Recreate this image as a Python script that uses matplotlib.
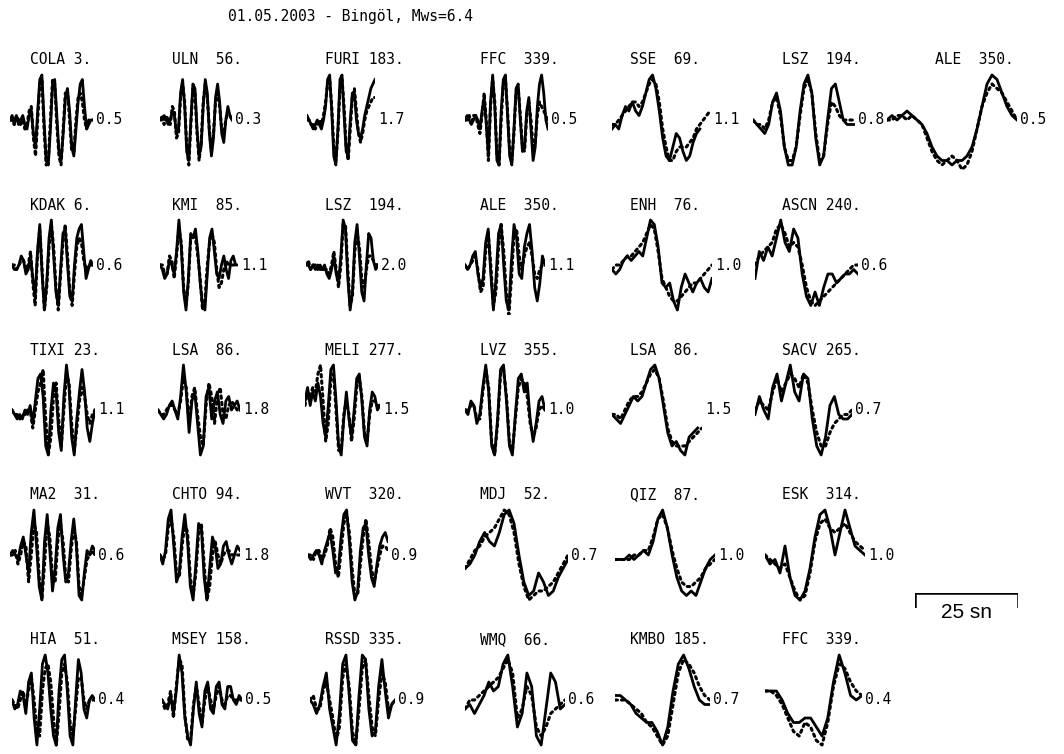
import matplotlib
matplotlib.use("Agg")
import matplotlib.pyplot as plt

W, H = 1064, 754
TITLE = "01.05.2003 - Bingöl, Mws=6.4"

# ---------------- data ----------------
stations = [
    ["COLA 3.", "ULN  56.", "FURI 183.", "FFC  339.", "SSE  69.", "LSZ  194.", "ALE  350."],
    ["KDAK 6.", "KMI  85.", "LSZ  194.", "ALE  350.", "ENH  76.", "ASCN 240."],
    ["TIXI 23.", "LSA  86.", "MELI 277.", "LVZ  355.", "LSA  86.", "SACV 265."],
    ["MA2  31.", "CHTO 94.", "WVT  320.", "MDJ  52.", "QIZ  87.", "ESK  314."],
    ["HIA  51.", "MSEY 158.", "RSSD 335.", "WMQ  66.", "KMBO 185.", "FFC  339."],
]
amps = [
    ["0.5", "0.3", "1.7", "0.5", "1.1", "0.8", "0.5"],
    ["0.6", "1.1", "2.0", "1.1", "1.0", "0.6"],
    ["1.1", "1.8", "1.5", "1.0", "1.5", "0.7"],
    ["0.6", "1.8", "0.9", "0.7", "1.0", "1.0"],
    ["0.4", "0.5", "0.9", "0.6", "0.7", "0.4"],
]

# observed (solid) and synthetic (dotted) traces, in tenths of normalised amplitude
cola_obs = [0,1,-1,1,-1,0,1,-1,-2,1,2,-3,-6,2,9,10,0,-9,-10,-2,8,9,1,-7,-9,-3,5,7,2,-6,-8,-2,4,8,9,3,-2,-1,0,0]
cola_syn = [0,0,-1,1,0,-1,0,-2,-1,2,3,-4,-8,0,8,9,-2,-10,-9,0,9,8,-1,-8,-10,-2,6,6,0,-7,-7,0,5,6,4,0,-2,0,0,0]
uln_obs = [0,0,1,0,-1,0,2,1,-3,-2,6,9,3,-7,-9,0,8,7,-2,-8,-6,3,9,6,-3,-8,-4,5,8,4,-3,-5,0,3,1,0]
uln_syn = [0,1,-1,1,0,-1,3,2,-4,-3,5,8,4,-6,-10,-1,7,6,-3,-9,-5,4,8,5,-2,-7,-3,4,6,3,-2,-3,0,2,1,0]
furi_obs = [1,0,-1,-2,-1,0,-1,-2,0,3,9,10,2,-8,-10,-2,9,10,1,-7,-8,0,6,6,0,-3,-4,-2,1,3,5,7,8,9]
furi_syn = [0,0,-1,-1,-2,-1,0,-1,1,4,8,9,3,-6,-9,-3,7,9,3,-6,-9,-2,5,7,2,-3,-5,-3,0,2,3,4,5,5]
ffc_p_obs = [0,1,0,-1,0,1,0,-2,2,5,-1,-8,4,10,3,-9,-10,2,9,10,1,-8,-10,-2,7,8,0,-7,-6,2,5,-2,-9,-6,3,8,10,6,0,-2]
ffc_p_syn = [0,0,1,-1,1,1,-1,-3,1,6,0,-9,3,9,4,-8,-10,0,8,9,2,-7,-9,-3,6,7,1,-6,-7,1,4,0,-6,-5,1,4,3,2,1,0]
sse_obs = [-2,-1,-2,1,3,2,4,2,1,3,6,9,10,7,2,-4,-8,-9,-6,-3,-4,-7,-9,-8,-5,-3,-2]
sse_syn = [-1,-1,0,1,2,3,4,4,3,4,6,8,9,8,4,-2,-6,-9,-9,-7,-6,-6,-6,-5,-4,-2,-1,0,1,2]
lsz_sh_obs = [0,-1,-2,-3,-1,4,6,2,-6,-10,-10,-6,2,8,10,6,-4,-10,-8,0,7,8,4,0,-1,-1,-1]
lsz_sh_syn = [0,-1,-1,-2,0,4,5,1,-6,-9,-9,-6,1,7,9,6,-3,-9,-8,-1,4,3,1,0,0,0,0]
ale_sh_obs = [0,1,0,1,2,1,0,-1,-3,-6,-8,-9,-9,-10,-9,-9,-8,-6,-2,3,8,10,9,6,3,1,0]
ale_sh_syn = [0,0,1,1,0,1,0,-1,-4,-7,-9,-10,-9,-8,-9,-11,-10,-7,-2,3,6,8,7,6,4,2,0]

kdak_obs = [0,-1,-1,0,2,1,-2,-1,2,-3,-7,3,9,-2,-10,-4,6,10,2,-6,-9,-1,7,8,0,-7,-8,0,6,8,9,3,-3,-1,1,0]
kdak_syn = [0,0,-1,0,1,1,-1,0,3,-4,-9,2,8,-1,-10,-5,4,9,4,-5,-10,-2,5,9,2,-6,-9,-2,4,6,5,1,-1,0,0,0]
kmi_obs = [0,-1,-3,-2,1,0,-2,3,10,4,-6,-10,-3,7,6,8,3,-4,-9,-10,-2,6,8,3,-2,-3,0,2,-1,-3,1,2,0,0]
kmi_syn = [0,0,-2,-2,2,1,-3,2,8,5,-5,-9,-4,6,7,6,2,-3,-10,-8,0,5,7,5,-1,-5,-4,-1,1,0,0,0,0,0]
lsz_p_obs = [0,0,-1,0,-1,0,-1,-1,0,-2,-3,-1,2,-2,-4,2,10,8,-3,-10,-6,5,9,2,-6,-8,0,7,6,1,-1,0]
lsz_p_syn = [0,1,-1,0,0,-1,0,-1,-1,-1,-2,0,3,-1,-5,0,9,9,-1,-9,-7,3,7,4,-3,-5,-1,2,2,1,0,0]
ale_p_obs = [0,-1,0,2,3,-2,-5,-3,5,8,-2,-10,-3,7,9,0,-8,-10,1,9,6,-2,-3,4,7,9,3,-5,-8,-4,2,0]
ale_p_syn = [0,-1,0,1,2,-1,-6,-5,3,7,0,-9,-6,4,9,3,-6,-11,-3,7,8,2,-1,2,4,5,2,-2,-3,-1,0,0]
enh_obs = [-1,-2,-1,1,2,1,2,3,2,6,10,9,4,-4,-5,-4,-8,-10,-5,-2,-4,-6,-4,-3,-5,-6,-3]
enh_syn = [-1,0,0,1,2,2,3,4,5,7,9,8,3,-3,-5,-7,-8,-8,-7,-6,-5,-4,-4,-3,-2,-1,0]
ascn_obs = [-3,3,1,4,2,6,10,5,3,8,6,-2,-7,-9,-6,-9,-5,-2,-2,-4,-3,-2,-2,-1,-2]
ascn_syn = [0,2,3,4,5,8,9,7,4,5,4,0,-5,-8,-9,-8,-7,-6,-5,-4,-3,-2,-1,0,0]

tixi_obs = [0,-1,-2,-1,-2,0,-1,1,-3,2,7,8,3,-8,-10,0,6,4,-5,-9,3,10,5,-6,-10,-2,4,9,4,-4,-7,-3,0]
tixi_syn = [0,-1,-1,-2,-1,-1,0,0,-4,0,4,6,9,-2,-10,-6,3,6,-2,-8,0,8,6,-3,-9,-4,2,5,3,-1,-3,-1,0]
lsa_p_obs = [0,-1,-2,-1,1,2,0,-2,3,10,4,-5,2,4,-3,-10,-8,3,5,-2,2,4,-1,-3,2,3,0,1,2,0]
lsa_p_syn = [0,-1,-1,0,1,1,0,-1,2,7,5,-3,3,5,-1,-6,-8,1,6,3,-3,3,5,-1,-2,1,2,1,0,0]
meli_obs = [2,5,1,4,2,6,3,-3,-6,1,9,10,2,-8,-10,-2,4,-2,-6,0,7,8,2,-6,-8,0,4,3,0,1]
meli_syn = [1,4,3,5,4,8,10,2,-7,-3,7,8,0,-9,-9,-1,2,-1,-7,-2,5,7,3,-5,-7,-1,2,2,1,1]
lvz_obs = [0,-1,2,1,-3,-1,5,10,4,-8,-10,-2,9,10,2,-8,-10,-1,7,8,4,6,-2,-7,-3,2,3,0]
lvz_syn = [0,0,1,1,-2,-2,4,9,5,-7,-10,-3,8,9,3,-7,-9,-2,5,7,6,3,-3,-6,-4,0,1,0]
lsa_sh_obs = [-1,-2,-3,-1,1,3,2,3,6,9,10,7,1,-5,-8,-7,-9,-10,-6,-5,-4]
lsa_sh_syn = [-1,-1,-2,0,2,3,3,4,6,8,9,7,2,-4,-7,-8,-8,-8,-7,-6,-5,-4]
sacv_obs = [-1,3,0,-2,5,8,2,6,10,4,2,8,7,-2,-8,-10,-6,1,3,-1,-2,-2,-1]
sacv_syn = [0,2,1,0,4,7,4,6,8,7,5,8,6,0,-5,-8,-8,-5,-3,-2,-1,-1,0]

ma2_obs = [0,1,0,-1,2,4,0,-4,5,10,2,-7,-10,3,9,1,-8,-3,6,9,0,-6,-4,3,8,2,-9,-10,-4,1,0,2,1]
ma2_syn = [0,0,1,-2,0,3,2,-6,0,7,5,-5,-10,-2,7,4,-5,-6,3,7,3,-5,-6,1,6,3,-7,-9,-5,-1,0,1,0]
chto_obs = [0,-2,1,8,10,2,-6,-4,4,9,3,-7,-10,-2,7,6,-5,-10,-3,4,2,-3,-2,2,3,0,-2,0,2,1]
chto_syn = [0,-1,0,6,8,4,-4,-5,2,7,5,-5,-9,-4,5,7,-2,-10,-7,0,3,0,-2,0,1,1,0,0,0,0]
wvt_obs = [0,-1,0,1,0,-2,1,3,5,1,-4,-3,4,9,10,3,-6,-10,-8,1,6,7,0,-5,-7,-2,2,4,5,3]
wvt_syn = [0,0,-1,1,1,-1,0,2,6,4,-2,-5,1,7,9,5,-3,-9,-9,-2,4,8,3,-3,-6,-3,0,2,2,1]
mdj_obs = [-3,-2,0,3,5,3,2,5,9,10,7,0,-6,-9,-8,-4,-6,-9,-8,-5,-3,-1]
mdj_syn = [-3,-1,1,2,4,5,6,8,10,9,5,-2,-7,-10,-9,-8,-8,-7,-6,-4,-2,0]
qiz_obs = [-1,-1,-1,0,-1,0,1,0,3,8,10,6,0,-5,-8,-9,-8,-9,-6,-3,-1,0]
qiz_syn = [-1,-1,-1,-1,0,0,1,1,4,8,9,6,1,-3,-6,-7,-7,-6,-5,-3,-2,-1]
esk_obs = [0,-2,-1,-4,2,-5,-9,-10,-8,-3,4,9,10,6,0,5,10,6,2,1,0]
esk_syn = [0,-1,-2,-3,-2,-5,-8,-10,-9,-4,3,7,8,6,5,6,7,5,3,2,1]

hia_obs = [0,-2,-1,2,1,-3,4,6,-4,-10,-2,8,10,6,-2,-8,-10,2,9,10,2,-8,-10,0,9,6,-2,-4,0,1,0]
hia_syn = [0,-1,-2,0,2,-1,2,5,0,-7,-8,2,7,8,4,-4,-10,-3,6,8,4,-5,-8,-2,5,5,0,-2,0,0,0]
msey_obs = [0,-1,-2,1,-3,2,10,6,-4,-8,-10,-2,4,-3,-6,2,4,-2,-3,3,4,-1,-2,3,3,0,-1,1,0]
msey_syn = [0,-2,-1,2,-4,3,9,8,-3,-9,-9,-1,3,-1,-5,0,3,0,-2,1,3,0,-1,1,1,0,0,0,0]
rssd_obs = [0,-1,-3,-1,3,6,-2,-6,-10,-3,8,10,1,-9,-10,1,10,9,-2,-8,-7,3,9,2,-4,-1,0]
rssd_syn = [0,1,-2,-2,2,4,0,-4,-9,-6,5,8,3,-7,-10,-2,7,9,1,-6,-8,0,6,4,-2,-1,0]
wmq_obs = [-2,-1,-3,-1,1,4,2,3,8,10,3,-6,-3,6,3,-8,-10,-2,6,4,-2,-1]
wmq_syn = [-2,0,0,1,2,3,4,5,7,9,6,-4,-2,3,1,-6,-8,-6,-3,-2,-1,0]
kmbo_obs = [1,1,0,-1,-3,-4,-5,-5,-7,-10,-6,2,8,10,7,3,0,-1,-1]
kmbo_syn = [0,0,0,-1,-2,-3,-5,-6,-8,-10,-8,-1,6,9,8,6,3,1,0]
ffc_sh_obs = [2,2,2,0,-3,-5,-5,-4,-4,-6,-8,-4,4,10,6,1,0,1]
ffc_sh_syn = [2,2,1,-1,-4,-7,-8,-5,-6,-9,-10,-5,3,8,7,4,2,1]

observed = [
    [cola_obs, uln_obs, furi_obs, ffc_p_obs, sse_obs, lsz_sh_obs, ale_sh_obs],
    [kdak_obs, kmi_obs, lsz_p_obs, ale_p_obs, enh_obs, ascn_obs],
    [tixi_obs, lsa_p_obs, meli_obs, lvz_obs, lsa_sh_obs, sacv_obs],
    [ma2_obs, chto_obs, wvt_obs, mdj_obs, qiz_obs, esk_obs],
    [hia_obs, msey_obs, rssd_obs, wmq_obs, kmbo_obs, ffc_sh_obs],
]
synthetic = [
    [cola_syn, uln_syn, furi_syn, ffc_p_syn, sse_syn, lsz_sh_syn, ale_sh_syn],
    [kdak_syn, kmi_syn, lsz_p_syn, ale_p_syn, enh_syn, ascn_syn],
    [tixi_syn, lsa_p_syn, meli_syn, lvz_syn, lsa_sh_syn, sacv_syn],
    [ma2_syn, chto_syn, wvt_syn, mdj_syn, qiz_syn, esk_syn],
    [hia_syn, msey_syn, rssd_syn, wmq_syn, kmbo_syn, ffc_sh_syn],
]
scale_seconds = 25
scale_label = "25 sn"

# ---------------- layout (pixels) ----------------
label_x = [30, 172, 325, 480, 630, 782, 935]
row_center = [120, 265, 410, 555, 700]
label_dy = 60
half_h = 45
wave_x0 = [
    [10, 160, 307, 465, 612, 753, 887],
    [12, 160, 306, 465, 612, 755],
    [12, 158, 305, 465, 612, 755],
    [10, 160, 308, 465, 615, 765],
    [12, 162, 310, 465, 615, 765],
]
wave_x1 = [
    [93, 232, 375, 548, 710, 855, 1017],
    [93, 238, 378, 545, 712, 858],
    [95, 240, 380, 545, 702, 852],
    [95, 240, 388, 568, 715, 865],
    [95, 242, 395, 565, 710, 862],
]
amp_gap = 3
bar_x0, bar_y, bar_tick = 915, 593, 15
px_per_sec = 103 / 25

MONO = "DejaVu Sans Mono"
FS = 10.5

fig = plt.figure(figsize=(W / 100, H / 100), dpi=100)
fig.patch.set_facecolor("white")


def fx(x):
    return x / W


def fy(y):
    return 1 - y / H


fig.text(fx(228), fy(16), TITLE, family=MONO, fontsize=FS, ha="left", va="center")

for r, row in enumerate(stations):
    yc = row_center[r]
    for c, name in enumerate(row):
        fig.text(fx(label_x[c]), fy(yc - label_dy), name, family=MONO, fontsize=FS,
                 ha="left", va="center")
        obs = [v / 10 for v in observed[r][c]]
        syn = [v / 10 for v in synthetic[r][c]]
        n = max(len(obs), len(syn))
        x0, x1 = wave_x0[r][c], wave_x1[r][c]
        ax = fig.add_axes([fx(x0), fy(yc + half_h * 1.1), (x1 - x0) / W, 2 * half_h * 1.1 / H])
        ax.plot(range(len(obs)), obs, color="black", lw=2.0, solid_joinstyle="round")
        ax.plot(range(len(syn)), syn, color="black", lw=2.2, linestyle=(0, (0.8, 1.3)),
                dash_capstyle="round")
        ax.set_xlim(0, n - 1)
        ax.set_ylim(-1.1, 1.1)
        ax.axis("off")
        fig.text(fx(x1 + amp_gap), fy(yc), amps[r][c], family=MONO, fontsize=FS,
                 ha="left", va="center")

# scale bar
sax = fig.add_axes([fx(bar_x0), fy(bar_y + bar_tick), px_per_sec * scale_seconds / W, bar_tick / H])
sax.plot([0, 0, scale_seconds, scale_seconds], [0, 1, 1, 0], color="black", lw=1.8,
         solid_joinstyle="miter")
sax.set_xlim(0, scale_seconds)
sax.set_ylim(0, 1)
sax.axis("off")
fig.text(fx(bar_x0 + px_per_sec * scale_seconds / 2), fy(bar_y + 20), scale_label,
         family="Liberation Sans", fontsize=15, ha="center", va="center")

fig.savefig("out.png", dpi=100, facecolor="white")
